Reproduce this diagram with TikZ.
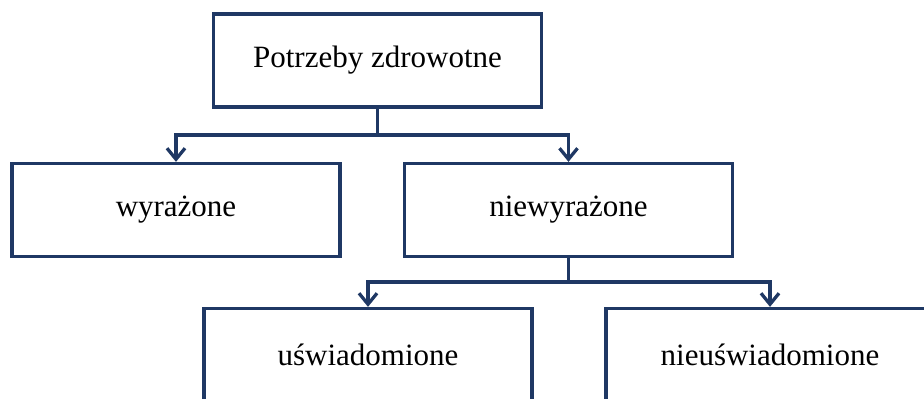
\documentclass[tikz,border=0pt]{standalone}
\usepackage{fontspec}
\setmainfont{Liberation Serif}
\usetikzlibrary{arrows.meta}
\definecolor{navy}{RGB}{31,56,100}
\begin{document}
\begin{tikzpicture}[x=1pt,y=-1pt,
  box/.style={draw=navy,line width=3.3pt,minimum width=328pt,minimum height=93pt,inner sep=0pt,
    font=\fontsize{31}{37}\selectfont,text=black},
  conn/.style={draw=navy,line width=3.3pt},
  arr/.style={conn,-{Straight Barb[length=11pt,width=18pt]}}]
\useasboundingbox (0,0) rectangle (924,399);
\begin{scope}
\clip (0,0) rectangle (924,399);
\node[box] (top) at (377.5,60.5) {Potrzeby zdrowotne};
\node[box] (left) at (176,210) {wyrażone};
\node[box] (mid) at (568.5,210) {niewyrażone};
\node[box] (bl) at (368,355) {uświadomione};
\node[box] (br) at (770,355) {nieuświadomione};
\coordinate (j1) at (377.5,135);
\coordinate (j2) at (568.5,282);
\draw[conn] (top.south) -- (j1);
\draw[arr] (j1) -| (left.north);
\draw[arr] (j1) -| (mid.north);
\draw[conn] (mid.south) -- (j2);
\draw[arr] (j2) -| (bl.north);
\draw[arr] (j2) -| (br.north);
\end{scope}
\end{tikzpicture}
\end{document}
